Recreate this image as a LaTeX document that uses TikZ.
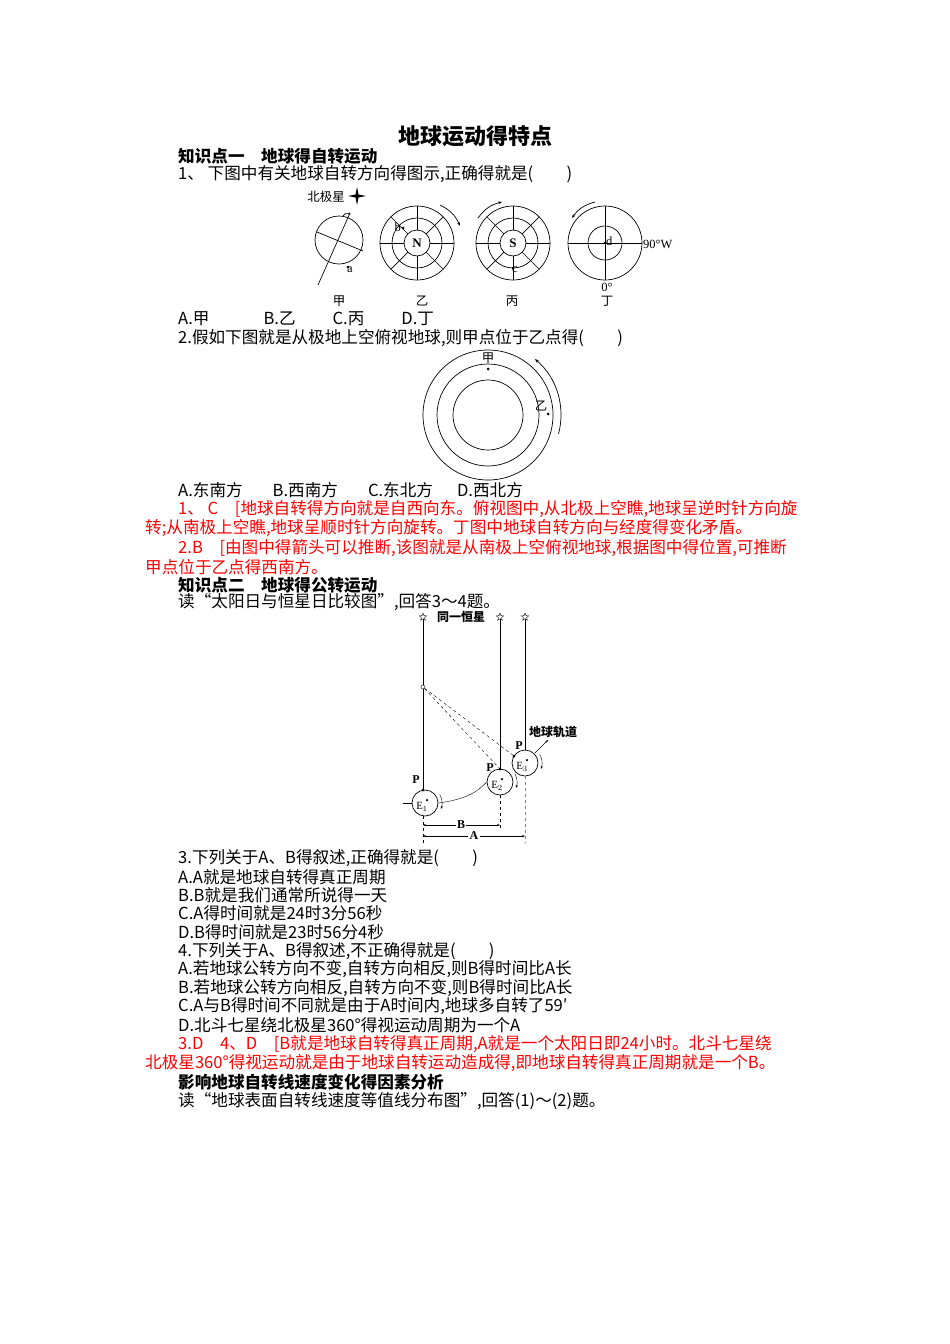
\documentclass[tikz,border=0pt]{standalone}
\usepackage{fontspec}
\setmainfont{Noto Sans CJK SC}
\newfontfamily\lat{Liberation Serif}
\usetikzlibrary{arrows.meta,shapes.geometric,calc}
\begin{document}
\begin{tikzpicture}[x=1pt,y=-1pt,
  tx/.style={anchor=west,inner sep=0,font=\fontsize{16.6}{17}\selectfont},
  rd/.style={tx,text=red},
  hd/.style={tx,font=\fontsize{16.6}{17}\selectfont\bfseries},
  sm/.style={inner sep=0,font=\fontsize{12.5}{13}\selectfont},
  ln/.style={line width=0.7pt},
  dt/.style={circle,fill,inner sep=0,minimum size=3pt}]
\useasboundingbox (0,0) rectangle (950,1344);
\node[inner sep=0,font=\fontsize{22}{23}\selectfont\bfseries] (title) at (475,136) {地球运动得特点};
\node[hd] (h1) at (178,156) {知识点一\quad 地球得自转运动};
\node[tx] (q1) at (178,174) {1、\ 下图中有关地球自转方向得图示,正确得就是(\qquad )};
% diagram 1 jia
\node[ln,draw,circle,minimum size=48pt,inner sep=0] (ja) at (339,240) {};
\draw[ln] (318,285) -- (350,213);
\draw[ln] (317,232) -- (363,251);
\draw[ln,-{Stealth[length=3pt]}] (343,216) arc (200:330:4);
\node[dt] (pa) at (348,267) {};
\node[sm,anchor=north west] (la) at (347,266) {\lat a};
\node[sm] (bj) at (326,197) {北极星};
\coordinate (st) at (357,196);
\fill (st) ++(0,-9) -- ++(1.5,7.5) -- ++(7.5,1.5) -- ++(-7.5,1.5) -- ++(-1.5,7.5) -- ++(-1.5,-7.5) -- ++(-7.5,-1.5) -- ++(7.5,-1.5) -- cycle;
\node[sm] (l1) at (339,301) {甲};
% yi, bing
\foreach \cx/\nm/\lab in {417/yi/N,513/bing/S}{
  \foreach \r in {13,25,37} \draw[ln] (\cx,243) circle (\r);
  \foreach \a in {0,45,...,315} \draw[ln] ($(\cx,243)+(\a:13)$) -- ($(\cx,243)+(\a:37)$);
  \node[sm,font=\fontsize{13}{13}\selectfont\bfseries\lat] (\nm) at (\cx,243) {\lab};
}
\node[dt] (pb) at (403,228) {};
\node[sm,anchor=east] (lb) at (401,227) {\lat b};
\draw[ln,-{Stealth[length=4pt]}] (440,205) to[bend left=20] (460,226);
\node[dt] (pc) at (513,268) {};
\node[sm,anchor=north west] (lc) at (512,266) {\lat c};
\draw[ln,-{Stealth[length=4pt]}] (478,218) to[bend left=20] (502,202);
\node[sm] (l2) at (422,301) {乙};
\node[sm] (l3) at (512,301) {丙};
% ding
\draw[ln] (605,243) circle (37) (605,243) circle (17);
\draw[ln] (568,243) -- (642,243) (605,206) -- (605,280);
\node[dt] (pd) at (605,243) {};
\node[sm,anchor=south west] (ld) at (606,246) {\lat d};
\node[sm,anchor=west] (w90) at (643,244) {\lat 90°W};
\node[sm] (z0) at (607,287) {\lat 0°};
\draw[ln,-{Stealth[length=4pt]}] (595,202) to[bend right=20] (572,218);
\node[sm] (l4) at (607,301) {丁};
\node[tx] (o1) at (178,319) {A.甲\hspace{54pt}B.乙\hspace{37pt}C.丙\hspace{37pt}D.丁};
\node[tx] (q2) at (178,338) {2.假如下图就是从极地上空俯视地球,则甲点位于乙点得(\qquad )};
% diagram 2
\draw[ln] (488,415) circle (65) (488,415) circle (51) (488,415) circle (35);
\node[sm] (jia) at (488,358) {甲};
\node[dt] (pj) at (488,369) {};
\node[sm] (yi2) at (541,406) {乙};
\node[dt] (py) at (548,414) {};
\draw[ln,-{Stealth[length=4pt]}] ($(488,415)+(15:73)$) arc (15:-50:73);
\node[tx] (o2) at (178,490) {A.东南方\hspace{30pt}B.西南方\hspace{30pt}C.东北方\hspace{24pt}D.西北方};
\node[rd] (r1) at (178,509) {1、 C\quad [地球自转得方向就是自西向东。俯视图中,从北极上空瞧,地球呈逆时针方向旋};
\node[rd] (r2) at (145,528) {转;从南极上空瞧,地球呈顺时针方向旋转。丁图中地球自转方向与经度得变化矛盾。};
\node[rd] (r3) at (178,548) {2.B\quad [由图中得箭头可以推断,该图就是从南极上空俯视地球,根据图中得位置,可推断};
\node[rd] (r4) at (145,567) {甲点位于乙点得西南方。};
\node[hd] (h2) at (178,585) {知识点二\quad 地球得公转运动};
\node[tx] (q3) at (178,602) {读“太阳日与恒星日比较图”,回答3～4题。};
% diagram 3
\foreach \x/\n in {423/s1,500/s2,525/s3} \node[star,star points=5,star point ratio=2.4,draw,thin,minimum size=8pt,inner sep=0] (\n) at (\x,617) {};
\node[sm,font=\fontsize{12}{12}\selectfont\bfseries] (tx3) at (461,617) {同一恒星};
\node[ln,draw,circle,minimum size=26pt,inner sep=0] (e1) at (425,803) {};
\node[ln,draw,circle,minimum size=26pt,inner sep=0] (e2) at (500,782) {};
\node[ln,draw,circle,minimum size=26pt,inner sep=0] (e3) at (525,763) {};
\coordinate (p1) at (423,790);
\coordinate (p2) at (500,769);
\coordinate (p3) at (514,756);
\draw[ln] (s1) -- (p1); \draw[ln] (s2) -- (p2); \draw[ln] (s3) -- (525,750);
\node[draw,circle,fill=white,inner sep=0,minimum size=4pt] (oc) at (423,687) {};
\draw[dashed,thin] (oc) -- (p2); \draw[dashed,thin] (oc) -- (p3);
\foreach \p in {p1,p2,p3} \node[dt] at (\p) {};
\node[sm,font=\fontsize{12}{12}\selectfont\bfseries\lat] (P1) at (416,780) {P};
\node[sm,font=\fontsize{12}{12}\selectfont\bfseries\lat] (P2) at (490,768) {P};
\node[sm,font=\fontsize{12}{12}\selectfont\bfseries\lat] (P3) at (519,746) {P};
\foreach \c/\t in {e1/1,e2/2,e3/3}{
 \node[dt,minimum size=2.5pt] at ($(\c)+(2,-3)$) {};
 \node[sm,font=\fontsize{11}{11}\selectfont\lat] at ($(\c)+(-3,4)$) {E$_\t$};
 \draw[thin,-{Stealth[length=3pt]}] ($(\c)+(-30:17)$) arc (-30:20:17);
}
\draw[thin] (e1.east) .. controls (460,800) and (475,795) .. (e2.west);
\draw[thin] (403,803) -- (e1.west);
\node[sm,font=\fontsize{12}{12}\selectfont\bfseries] (orb) at (553,732) {地球轨道};
\draw[thin,-{Stealth[length=3pt]}] (535,753) -- (548,740);
\draw[dashed,thin] (423,816) -- (423,843);
\draw[dashed,thin] (500,795) -- (500,830);
\draw[dashed,thin,gray] (525,776) -- (525,843);
\node[sm,font=\fontsize{12}{12}\selectfont\bfseries\lat,fill=white,inner sep=1pt] (B) at (461,825) {B};
\node[sm,font=\fontsize{12}{12}\selectfont\bfseries\lat,fill=white,inner sep=1pt] (A) at (474,836) {A};
\draw[thin,-{Stealth[length=3pt]}] (B) -- (423,825); \draw[thin,-{Stealth[length=3pt]}] (B) -- (500,825);
\draw[thin,-{Stealth[length=3pt]}] (A) -- (423,836); \draw[thin,-{Stealth[length=3pt]}] (A) -- (525,836);
% questions
\node[tx] (a1) at (178,858) {3.下列关于A、B得叙述,正确得就是(\qquad )};
\node[tx] (a2) at (178,877) {A.A就是地球自转得真正周期};
\node[tx] (a3) at (178,895) {B.B就是我们通常所说得一天};
\node[tx] (a4) at (178,913) {C.A得时间就是24时3分56秒};
\node[tx] (a5) at (178,932) {D.B得时间就是23时56分4秒};
\node[tx] (a6) at (178,951) {4.下列关于A、B得叙述,不正确得就是(\qquad )};
\node[tx] (a7) at (178,969) {A.若地球公转方向不变,自转方向相反,则B得时间比A长};
\node[tx] (a8) at (178,988) {B.若地球公转方向相反,自转方向不变,则B得时间比A长};
\node[tx] (a9) at (178,1006) {C.A与B得时间不同就是由于A时间内,地球多自转了59′};
\node[tx] (a10) at (178,1025) {D.北斗七星绕北极星360°得视运动周期为一个A};
\node[rd] (r5) at (178,1044) {3.D\quad 4、D\quad [B就是地球自转得真正周期,A就是一个太阳日即24小时。北斗七星绕};
\node[rd] (r6) at (145,1063) {北极星360°得视运动就是由于地球自转运动造成得,即地球自转得真正周期就是一个B。};
\node[hd] (h3) at (178,1082) {影响地球自转线速度变化得因素分析};
\node[tx] (q5) at (178,1101) {读“地球表面自转线速度等值线分布图”,回答(1)～(2)题。};
\end{tikzpicture}
\end{document}
